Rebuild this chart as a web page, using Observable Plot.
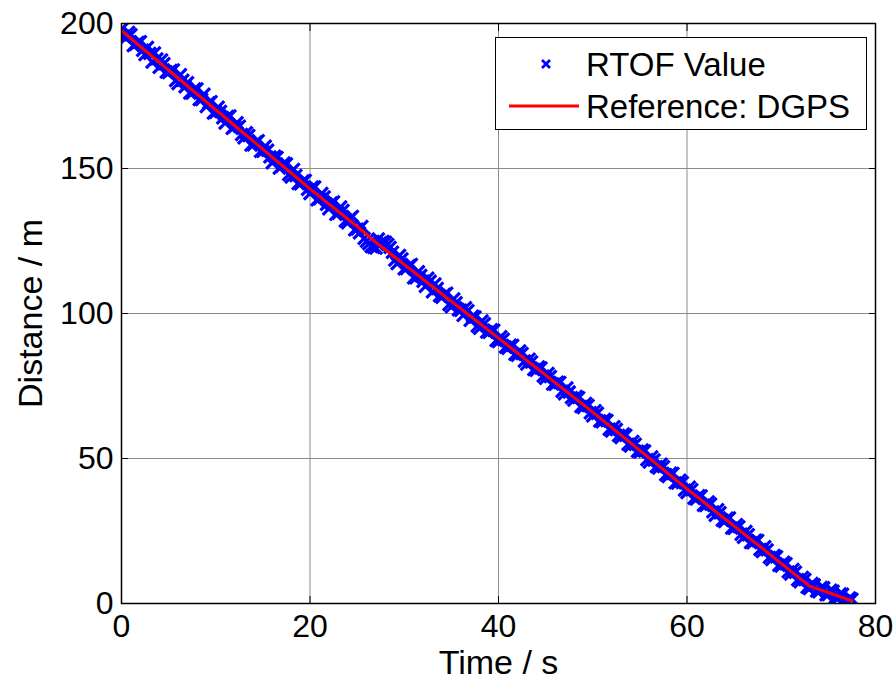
<!DOCTYPE html>
<html><head><meta charset="utf-8">
<script src="https://cdn.jsdelivr.net/npm/d3@7"></script>
<script src="https://cdn.jsdelivr.net/npm/@observablehq/plot@0.6"></script>
<style>
body{margin:0;background:#fff;}
#wrap{position:relative;width:894px;height:680px;font-family:"Liberation Sans",Arial,sans-serif;}
#legend{position:absolute;left:495px;top:37px;width:370px;height:91px;border:1.5px solid #000;background:#fff;}
.row{position:absolute;left:0;width:370px;height:40px;}
.row span{position:absolute;left:90px;top:50%;transform:translateY(-50%);font-size:33px;line-height:1;color:#000;white-space:nowrap;}
.row svg{position:absolute;left:0;top:0;}
</style></head>
<body>
<div id="wrap">
<div id="chart"></div>
<div id="legend">
  <div class="row" style="top:6px"><svg width="90" height="40"><path d="M50,20 m-4,-4 l8,8 m0,-8 l-8,8" stroke="#0000ff" stroke-width="2.8" fill="none"/></svg><span>RTOF Value</span></div>
  <div class="row" style="top:48px"><svg width="90" height="40"><line x1="13" y1="20" x2="83" y2="20" stroke="#ff0000" stroke-width="3"/></svg><span>Reference: DGPS</span></div>
</div>
</div>
<script>
const xTicks = [0, 20, 40, 60, 80];
const yTicks = [0, 50, 100, 150, 200];

// DGPS reference (time s, distance m)
const refT = [0, 20, 25, 27, 40, 50, 60, 68, 73, 75, 77.5];
const refD = [197.5, 143, 130, 124.5, 91.5, 66, 39.5, 19, 6, 3.8, 0.9];

// RTOF measurements, first set: sampled every 0.5 s starting at t = 0
const rtofStartA = 0, rtofStep = 0.5;
const rtofA = [
 198.0,195.1,196.1,192.8,193.7,189.3,189.7,189.8,184.9,186.1,
 183.1,184.0,179.3,180.4,179.6,176.0,177.4,173.8,171.4,173.0,
 169.4,169.7,165.7,168.1,164.5,164.6,160.6,161.4,158.2,159.6,
 155.9,156.3,152.0,153.8,150.8,151.6,147.1,147.6,144.7,145.9,
 141.4,143.6,139.6,140.2,136.1,138.5,134.6,135.5,131.3,133.5,
 129.1,130.0,124.9,123.1,122.6,124.4,124.6,122.8,118.4,120.0,
 115.4,116.5,112.3,114.4,111.1,112.2,107.5,108.6,105.6,107.0,
 102.3,103.7,101.1,102.0,97.7,98.8,94.9,96.5,93.5,94.2,
 90.3,91.1,88.0,89.0,85.6,86.2,82.6,83.3,80.4,81.2,
 77.7,78.3,75.6,76.2,72.3,72.9,70.2,71.0,67.6,68.3,
 64.7,65.6,62.7,63.1,59.5,60.0,57.2,58.0,54.3,54.9,
 52.2,52.6,48.8,49.5,46.7,47.2,43.8,44.8,41.5,41.7,
 38.3,39.2,36.0,37.1,33.8,34.3,30.4,31.3,28.3,29.5,
 25.9,26.5,22.8,23.7,20.9,21.7,17.9,18.5,15.2,16.1,
 12.9,13.7,10.2,10.8,7.5,8.3,5.2,6.4,4.0,5.4,
 3.1,4.2,1.7,3.2,0.6,1.5
];
// RTOF measurements, second set: sampled every 0.5 s starting at t = 0.25
const rtofStartB = 0.25;
const rtofB = [
 195.6,196.9,192.4,193.5,190.8,191.7,186.7,187.8,187.4,183.3,
 183.8,180.3,182.3,178.2,176.0,177.4,173.8,175.6,172.6,169.1,
 171.1,167.5,167.9,163.9,165.8,161.7,162.3,158.1,159.1,155.9,
 157.7,154.0,154.2,150.2,151.9,147.9,149.7,144.8,145.7,142.8,
 143.6,139.2,141.4,137.7,138.1,134.2,136.7,131.9,132.8,128.9,
 127.8,125.9,124.0,122.8,125.7,124.8,123.8,121.1,117.2,118.8,
 115.5,116.9,112.3,113.1,109.4,111.1,110.2,106.1,106.6,103.1,
 105.0,101.3,99.4,101.0,99.1,95.7,97.4,93.6,94.4,90.7,
 92.0,88.4,89.1,85.9,87.1,83.6,84.2,80.7,81.6,78.4,
 79.3,75.7,76.3,73.2,74.3,71.0,71.4,67.9,69.0,65.8,
 66.5,62.9,63.5,60.1,61.0,57.9,58.5,54.9,55.9,52.5,
 52.9,49.6,50.5,47.2,48.0,44.4,44.9,41.6,42.5,39.1,
 40.1,36.3,37.2,33.9,35.0,31.6,32.3,28.7,29.4,26.0,
 27.2,23.9,24.8,21.0,21.8,18.6,19.6,15.9,16.6,13.2,
 14.2,10.9,11.7,8.2,9.0,5.6,6.9,4.3,5.5,3.0,
 4.6,2.1,3.3,0.8,1.9
];

const ref = refT.map((t, i) => ({t, d: refD[i]}));
const rtof = [
  ...rtofA.map((d, i) => ({t: rtofStartA + i * rtofStep, d})),
  ...rtofB.map((d, i) => ({t: rtofStartB + i * rtofStep, d}))
];

const chart = Plot.plot({
  width: 894, height: 680,
  marginLeft: 121, marginRight: 19, marginTop: 23, marginBottom: 77,
  style: {fontFamily: "Liberation Sans, Arial, sans-serif", fontSize: "32px", color: "#000", background: "#fff", overflow: "visible"},
  x: {domain: [0, 80], label: null},
  y: {domain: [0, 200], label: null},
  marks: [
    Plot.gridX(xTicks, {stroke: "#8c8c8c", strokeOpacity: 1, strokeWidth: 1}),
    Plot.gridY(yTicks, {stroke: "#8c8c8c", strokeOpacity: 1, strokeWidth: 1}),
    Plot.dot(rtof, {x: "t", y: "d", symbol: "times", r: 5.6, stroke: "#0000ff", strokeWidth: 3.2, clip: true}),
    Plot.line(ref, {x: "t", y: "d", stroke: "#ff0000", strokeWidth: 3, clip: true}),
    Plot.axisX(xTicks, {anchor: "bottom", tickSize: 0, tickPadding: 11, fontSize: 32, label: null}),
    Plot.axisY(yTicks, {anchor: "left", tickSize: 0, tickPadding: 8, fontSize: 32, label: null}),
    Plot.axisX(xTicks, {anchor: "bottom", tickSize: 0, tickFormat: () => "", label: "Time / s", labelAnchor: "center", labelArrow: "none", labelOffset: 70, fontSize: 34}),
    Plot.axisY(yTicks, {anchor: "left", tickSize: 0, tickFormat: () => "", label: "Distance / m", labelAnchor: "center", labelArrow: "none", labelOffset: 104, fontSize: 34}),
    Plot.axisX(xTicks, {anchor: "bottom", tickSize: -7, tickFormat: () => "", label: null}),
    Plot.axisX(xTicks, {anchor: "top", tickSize: -7, tickFormat: () => "", label: null}),
    Plot.axisY(yTicks, {anchor: "left", tickSize: -7, tickFormat: () => "", label: null}),
    Plot.axisY(yTicks, {anchor: "right", tickSize: -7, tickFormat: () => "", label: null}),
    Plot.frame({stroke: "#000", strokeWidth: 1.5})
  ]
});
document.getElementById("chart").appendChild(chart);
</script>
</body></html>
